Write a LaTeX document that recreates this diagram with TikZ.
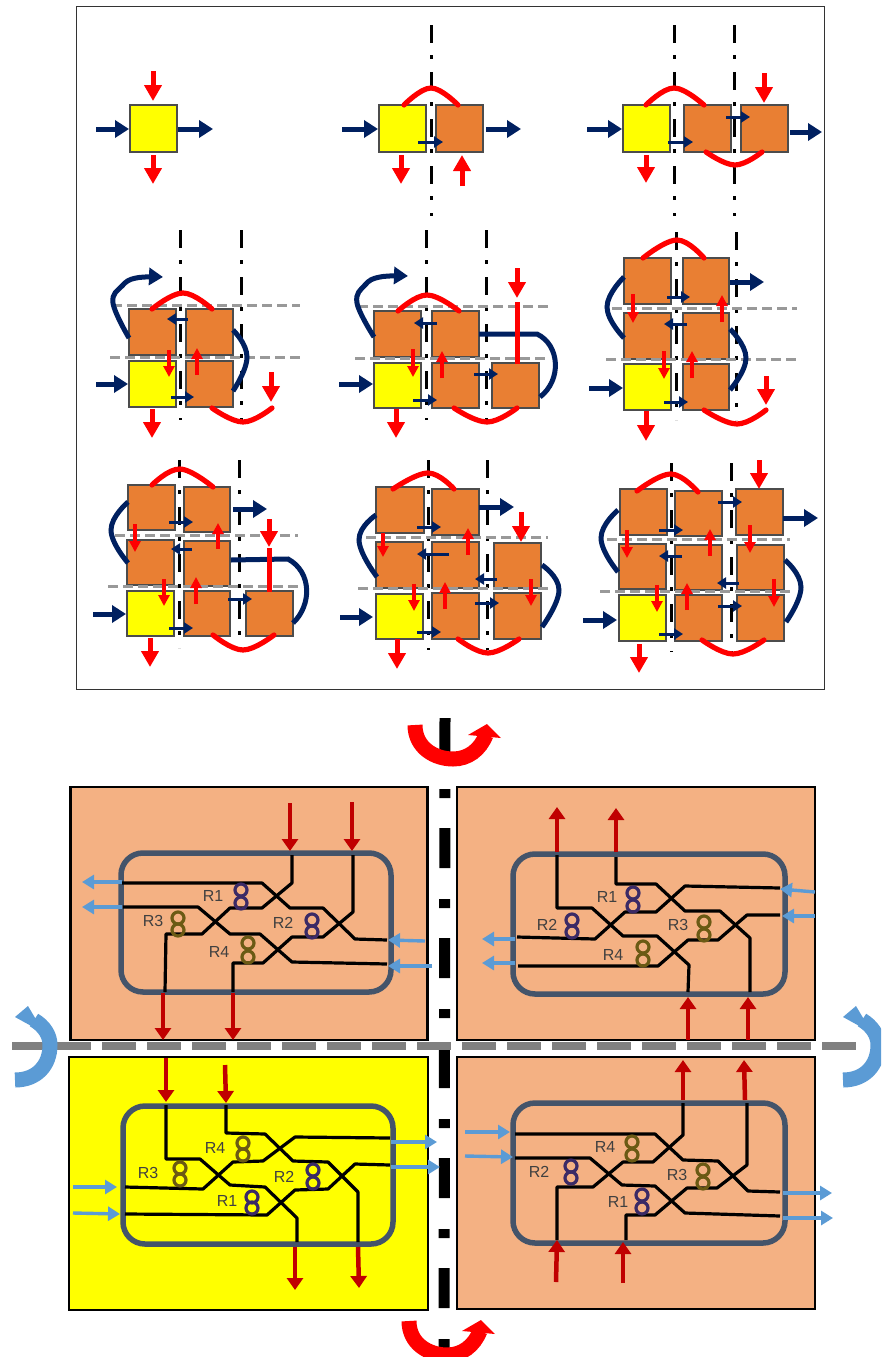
\documentclass[tikz,border=0pt]{standalone}
\usepackage{fontspec}
\setmainfont{Liberation Sans}
\usetikzlibrary{arrows.meta}
\definecolor{navyc}{HTML}{002060}
\definecolor{orangec}{HTML}{E97F33}
\definecolor{peachc}{HTML}{F4B183}
\definecolor{yellowc}{HTML}{FFFF00}
\definecolor{redc}{HTML}{FF0000}
\definecolor{darkredc}{HTML}{C00000}
\definecolor{bluec}{HTML}{5B9BD5}
\definecolor{slatec}{HTML}{44546A}
\definecolor{purplec}{HTML}{3B2A66}
\definecolor{olivec}{HTML}{6B5A14}
\tikzset{
  cellbox/.style={draw=black!70,line width=1.2pt,inner sep=0pt,outer sep=0pt},
  navybig/.style={navyc,line width=5pt,-{Triangle[length=14pt,width=17pt]}},
  navysmall/.style={navyc,line width=3pt,-{Triangle[length=9pt,width=11pt]}},
  redbig/.style={redc,line width=5pt,-{Triangle[length=16pt,width=17pt]}},
  redsmall/.style={redc,line width=3.2pt,-{Triangle[length=11pt,width=11pt]}},
  redline/.style={redc,line width=5pt},
  redcurve/.style={redc,line width=5.2pt,line cap=round},
  navycurve/.style={navyc,line width=5pt},
  axisline/.style={black,line width=3pt,dash pattern=on 18pt off 12pt on 4pt off 13pt},
  foldline/.style={black!40,line width=3pt,dash pattern=on 10pt off 5pt},
  panelbox/.style={draw=black,line width=2.6pt,inner sep=0pt,outer sep=0pt},
  wg/.style={black,line width=3.2pt,line join=round},
  modulebox/.style={draw=slatec,line width=5.5pt,rounded corners=22pt},
  ringp/.style={circle,draw=purplec,line width=3.2pt,minimum size=12pt,inner sep=0pt},
  ringo/.style={circle,draw=olivec,line width=3.2pt,minimum size=12pt,inner sep=0pt},
  rlabel/.style={text=black!75,font=\fontsize{16}{16}\selectfont,inner sep=0pt},
  bigred/.style={darkredc,line width=4.5pt,-{Triangle[length=12pt,width=16pt]}},
  bigblue/.style={bluec,line width=3.4pt,-{Triangle[length=12pt,width=14pt]}},
}
\newcommand\Cell[6]{\node[cellbox,fill=#6,minimum width={#4-#2},minimum height={#5-#3}] (#1) at ({(#2+#4)/2},{(#3+#5)/2}) {};}
\newcommand\Nb[2]{\draw[navybig] (#1) -- (#2);}
\newcommand\Ns[2]{\draw[navysmall] (#1) -- (#2);}
\newcommand\Rb[2]{\draw[redbig] (#1) -- (#2);}
\newcommand\Rs[2]{\draw[redsmall] (#1) -- (#2);}
\newcommand\Ra[3]{\draw[redcurve] plot[smooth,tension=0.7] coordinates {(#1) (#2) (#3)};}
\newcommand\Na[3]{\draw[navycurve] plot[smooth,tension=0.8] coordinates {(#1) (#2) (#3)};}
\newcommand\Axis[3]{\draw[axisline] (#1,#2) -- (#1,#3);}
\newcommand\Fold[3]{\draw[foldline] (#1,#3) -- (#2,#3);}
\newcommand\Rp[3]{\node[ringp] (#1a) at (#2) {};\node[ringp] (#1b) at (#3) {};}
\newcommand\Ro[3]{\node[ringo] (#1a) at (#2) {};\node[ringo] (#1b) at (#3) {};}
\newcommand\Lb[3]{\node[rlabel] (#1) at (#2) {#3};}
\newcommand\BR[2]{\draw[bigred] (#1) -- (#2);}
\newcommand\BB[2]{\draw[bigblue] (#1) -- (#2);}
\begin{document}
\begin{tikzpicture}[x=1pt,y=-1pt]
\path[use as bounding box] (0,0) rectangle (881,1357);
\clip (0,0) rectangle (881,1357);
\fill[white] (0,0) rectangle (881,1357);
\node[draw=black!80,line width=1pt,inner sep=0pt,minimum width=748pt,minimum height=683pt] (frame) at (450,347.5) {};

% ---------- row 1
\Axis{431}{25}{216}
\Axis{674}{25}{216}
\Axis{734}{25}{216}
\Cell{aY}{130}{105}{177}{152}{yellowc}
\Nb{96,129}{129,129}\Nb{178,129}{213,129}\Rb{153,71}{153,101}\Rb{153,155}{153,184}

\Cell{bY}{379}{105}{426}{152}{yellowc}
\Cell{bA}{436}{105}{483}{152}{orangec}
\Nb{342,129}{378,129}\Nb{486,129}{521,129}
\Ra{404,105}{431,88}{458,105}
\Rb{401,155}{401,184}\Rb{462,186}{462,155}
\Ns{418,142}{443,142}

\Cell{cY}{623}{105}{670}{152}{yellowc}
\Cell{cA}{684}{105}{731}{152}{orangec}
\Cell{cB}{741}{105}{788}{152}{orangec}
\Nb{587,129}{622,129}\Nb{790,132}{822,132}
\Ra{646,105}{674,88}{704,105}
\Ra{706,152}{735,165}{762,152}
\Rb{764,73}{764,103}\Rb{646,155}{646,183}
\Ns{668,142}{693,142}\Ns{726,117}{750,117}

% ---------- row 2 col 1
\Axis{180}{230}{420}
\Axis{241}{230}{420}
\Cell{dA}{129}{309}{176}{355}{orangec}
\Cell{dB}{186}{309}{233}{355}{orangec}
\Cell{dY}{129}{361}{176}{407}{yellowc}
\Cell{dC}{186}{361}{233}{407}{orangec}
\Fold{112}{300}{305}\Fold{110}{300}{357}
\draw[navybig] plot[smooth,tension=0.7] coordinates {(129,338) (113,303) (122,286) (136,278) (163,277)};
\Ra{152,309}{183,293}{212,309}
\Ns{188,319}{167,319}
\Rs{169,350}{169,377}\Rs{197,375}{197,348}
\Nb{96,384}{128,384}\Rb{152,409}{152,438}
\Ns{171,397}{194,397}
\Na{233,330}{247,357}{233,391}
\Ra{212,408}{243,422}{272,408}
\Rb{271,372}{271,402}

% ---------- row 2 col 2
\Axis{426}{230}{420}
\Axis{486}{230}{420}
\Cell{eA}{374}{311}{421}{357}{orangec}
\Cell{eB}{432}{311}{479}{357}{orangec}
\Cell{eY}{374}{363}{421}{408}{yellowc}
\Cell{eC}{432}{363}{479}{408}{orangec}
\Cell{eD}{492}{363}{539}{408}{orangec}
\Fold{358}{548}{306}\Fold{355}{547}{358}
\draw[navybig] plot[smooth,tension=0.7] coordinates {(374,337) (357,303) (365,285) (380,277) (408,276)};
\Ra{398,311}{427,295}{459,311}
\Ns{437,323}{414,323}
\Rs{413,349}{413,377}\Rs{442,378}{442,351}
\Nb{339,384}{373,384}\Rb{396,409}{396,438}
\Ns{413,400}{437,400}\Ns{474,374}{498,374}
\Ra{454,408}{487,422}{517,408}
\draw[navycurve] (479,334) -- (537,334) .. controls (560,345) and (562,380) .. (540,397);
\draw[redline] (517,364) -- (517,302);
\Rb{517,268}{517,298}

% ---------- row 2 col 3
\Axis{676}{232}{420}
\Axis{736}{232}{420}
\Cell{fA}{624}{258}{671}{304}{orangec}
\Cell{fB}{683}{258}{729}{304}{orangec}
\Cell{fC}{624}{313}{671}{359}{orangec}
\Cell{fD}{683}{313}{729}{359}{orangec}
\Cell{fY}{624}{364}{671}{410}{yellowc}
\Cell{fE}{683}{364}{729}{410}{orangec}
\Fold{612}{797}{308}\Fold{606}{797}{359}
\Ra{643,258}{677,240}{704,258}
\Nb{730,282}{764,282}
\Ns{667,297}{690,297}\Ns{687,324}{664,324}
\Rs{633,294}{633,323}\Rs{722,322}{722,295}
\Rs{664,351}{664,379}\Rs{692,378}{692,351}
\Na{624,277}{607,307}{624,338}
\Na{730,329}{746,358}{730,390}
\Nb{589,388}{623,388}\Rb{646,411}{646,441}
\Ns{664,402}{688,402}
\Ra{704,410}{737,424}{766,410}
\Rb{766,376}{766,405}

% ---------- row 3 col 1
\Axis{179}{460}{648}
\Axis{239}{460}{648}
\Cell{gA}{128}{485}{175}{530}{orangec}
\Cell{gB}{184}{487}{230}{532}{orangec}
\Cell{gC}{127}{540}{174}{585}{orangec}
\Cell{gD}{184}{541}{230}{586}{orangec}
\Cell{gY}{127}{591}{174}{636}{yellowc}
\Cell{gE}{184}{591}{230}{636}{orangec}
\Cell{gF}{246}{591}{293}{636}{orangec}
\Fold{115}{298}{535}\Fold{108}{298}{586}
\Ra{152,485}{180,469}{213,487}
\Nb{233,509}{267,509}
\Ns{169,522}{193,522}\Ns{192,549}{171,549}
\Rs{135,524}{135,552}\Rs{218,549}{218,523}
\Rs{164,579}{164,606}\Rs{196,604}{196,577}
\Na{128,502}{111,530}{128,563}
\Nb{93,614}{126,614}\Rb{150,638}{150,667}
\Ns{169,628}{193,628}\Ns{228,599}{252,599}
\Ra{213,635}{243,650}{274,635}
\draw[navycurve] (231,560) -- (288,559) .. controls (312,572) and (312,605) .. (293,623);
\draw[redline] (269,592) -- (269,548);
\Rb{269,519}{269,547}

% ---------- row 3 col 2
\Axis{428}{460}{650}
\Axis{487}{460}{650}
\Cell{hA}{376}{487}{424}{533}{orangec}
\Cell{hB}{432}{489}{479}{535}{orangec}
\Cell{hC}{376}{542}{423}{588}{orangec}
\Cell{hD}{432}{542}{479}{588}{orangec}
\Cell{hE}{494}{543}{541}{588}{orangec}
\Cell{hY}{376}{594}{423}{639}{yellowc}
\Cell{hF}{432}{593}{479}{639}{orangec}
\Cell{hG}{494}{593}{541}{639}{orangec}
\Fold{366}{548}{537}\Fold{358}{548}{588}
\Ra{393,489}{428,473}{454,489}
\Nb{479,507}{514,507}
\Ns{417,527}{441,527}\Ns{449,554}{417,554}
\Rb{521,512}{521,542}
\Rs{383,533}{383,557}\Rs{468,555}{468,528}
\Rs{414,584}{414,611}\Rs{445,609}{445,582}
\Na{376,515}{359,540}{377,577}
\Na{542,565}{559,590}{542,627}
\Ns{497,579}{475,579}\Ns{475,603}{499,603}
\Rs{531,579}{531,606}
\Nb{340,617}{373,617}\Rb{397,639}{397,669}
\Ns{417,632}{441,632}
\Ra{458,639}{488,653}{519,639}

% ---------- row 3 col 3
\Axis{671}{463}{652}
\Axis{731}{463}{652}
\Cell{iA}{620}{489}{667}{535}{orangec}
\Cell{iB}{675}{491}{722}{536}{orangec}
\Cell{iC}{736}{489}{783}{535}{orangec}
\Cell{iD}{619}{544}{666}{589}{orangec}
\Cell{iE}{675}{545}{722}{590}{orangec}
\Cell{iF}{737}{545}{784}{590}{orangec}
\Cell{iY}{619}{595}{666}{641}{yellowc}
\Cell{iG}{675}{595}{722}{641}{orangec}
\Cell{iH}{737}{595}{784}{641}{orangec}
\Fold{607}{790}{539}\Fold{600}{790}{591}
\Ra{637,491}{671,474}{698,492}
\Ns{718,502}{742,502}\Ns{659,530}{683,530}
\Nb{783,518}{818,518}
\Rb{759,460}{759,489}
\Rs{627,530}{627,558}\Rs{710,556}{710,529}\Rs{750,525}{750,553}
\Ns{682,556}{659,556}\Ns{739,583}{717,583}
\Rs{657,585}{657,612}\Rs{687,610}{687,583}\Rs{774,579}{774,607}
\Na{618,510}{601,538}{618,572}
\Na{785,560}{801,587}{786,622}
\Ns{718,606}{742,606}\Ns{659,634}{683,634}
\Nb{583,620}{617,620}\Rb{639,644}{639,673}
\Ra{702,640}{733,654}{764,640}

% ---------- symmetry axes
\draw[black,line width=11pt,dash pattern=on 40pt off 31pt on 9pt off 30pt] (445,718) -- (444,1357);
\draw[black!50,line width=8pt] (12,1046) -- (91,1046);
\draw[black!50,line width=8pt,dash pattern=on 34pt off 11pt] (102,1046) -- (860,1046);

% ---------- turn arrows
\newcommand\RedTurn{%
  \draw[redc,line width=15pt] (415,725) .. controls (415,748) and (435,759) .. (453,759) .. controls (468,759) and (480,750) .. (486,735);
  \fill[redc] (468,735) -- (487,724) -- (501,738) -- cycle;}
\newcommand\BlueTurn{%
  \draw[bluec,line width=15pt] (843,1080) .. controls (865,1080) and (878,1065) .. (878,1045) .. controls (878,1035) and (872,1026) .. (862,1020);
  \fill[bluec] (843,1017) -- (856,1006) -- (872,1033) -- cycle;}
\RedTurn
\begin{scope}[shift={(-6,596)}]\RedTurn\end{scope}
\BlueTurn
\begin{scope}[shift={(-828,0)}]\BlueTurn\end{scope}

% ---------- panels
\node[panelbox,fill=peachc,minimum width=357pt,minimum height=253pt] (ptl) at (249,913.5) {};
\node[panelbox,fill=peachc,minimum width=358pt,minimum height=253pt] (ptr) at (636,913.5) {};
\node[panelbox,fill=yellowc,minimum width=359pt,minimum height=253pt] (pbl) at (248.5,1183.5) {};
\node[panelbox,fill=peachc,minimum width=358pt,minimum height=252pt] (pbr) at (636,1183) {};

% ---------- top-left module
\draw[modulebox] (121,853) rectangle (391,992);
\draw[wg] (122,883) -- (262,883) -- (290,908) -- (323,908) -- (355,939) -- (387,940);
\draw[wg] (123,907) -- (198,907) -- (230,934) -- (260,934) -- (292,962) -- (387,964);
\draw[wg] (292,855) -- (292,883) -- (262,908) -- (230,908) -- (202,934) -- (166,934) -- (165,992);
\draw[wg] (353,855) -- (353,912) -- (323,937) -- (292,937) -- (263,963) -- (233,963) -- (233,992);
\Rp{tlra}{241,890}{241,903}\Rp{tlrb}{312,920}{312,932}
\Ro{tlrc}{178,918}{178,930}\Ro{tlrd}{248,943}{248,957}
\Lb{tlla}{213,896}{R1}\Lb{tllb}{283,923}{R2}\Lb{tllc}{153,921}{R3}\Lb{tlld}{219,952}{R4}
\BR{290,803}{290,851}\BR{352,802}{352,851}
\BR{163,993}{163,1040}\BR{233,993}{233,1040}
\BB{122,882}{82,882}\BB{122,907}{82,907}
\BB{425,941}{388,940}\BB{432,966}{388,966}

% ---------- top-right module
\draw[modulebox] (513,854) rectangle (785,994);
\draw[wg] (616,857) -- (616,884) -- (656,884) -- (685,911) -- (720,911) -- (750,938) -- (750,992);
\draw[wg] (557,855) -- (557,908) -- (592,908) -- (623,936) -- (657,936) -- (689,965) -- (688,992);
\draw[wg] (780,888) -- (685,886) -- (656,912) -- (625,912) -- (595,939) -- (517,937);
\draw[wg] (780,915) -- (747,915) -- (718,940) -- (688,940) -- (658,966) -- (518,966);
\Rp{trra}{633,893}{633,906}\Rp{trrb}{572,920}{572,932}
\Ro{trrc}{704,922}{704,935}\Ro{trrd}{643,947}{643,960}
\Lb{trla}{607,897}{R1}\Lb{trlb}{547,925}{R2}\Lb{trlc}{678,925}{R3}\Lb{trld}{613,955}{R4}
\BR{557,852}{557,807}\BR{616,852}{616,808}
\BR{688,1040}{688,997}\BR{748,1040}{748,997}
\BB{815,892}{780,889}\BB{815,916}{782,916}
\BB{515,939}{482,939}\BB{515,963}{482,963}

% ---------- bottom-left module
\draw[modulebox] (123,1106) rectangle (393,1244);
\draw[wg] (166,1105) -- (166,1159) -- (200,1159) -- (230,1185) -- (265,1187) -- (297,1218) -- (297,1242);
\draw[wg] (226,1105) -- (226,1133) -- (265,1134) -- (293,1161) -- (328,1162) -- (358,1192) -- (358,1242);
\draw[wg] (125,1187) -- (203,1189) -- (233,1162) -- (263,1161) -- (295,1137) -- (390,1138);
\draw[wg] (125,1214) -- (267,1215) -- (295,1190) -- (328,1189) -- (355,1164) -- (390,1165);
\Rp{blra}{252,1197}{252,1208}\Rp{blrb}{313,1170}{313,1183}
\Ro{blrc}{180,1168}{180,1180}\Ro{blrd}{243,1143}{243,1155}
\Lb{blla}{227,1201}{R1}\Lb{bllb}{284,1177}{R2}\Lb{bllc}{148,1173}{R3}\Lb{blld}{215,1148}{R4}
\BR{166,1058}{166,1102}\BR{225,1065}{226,1103}
\BR{295,1247}{295,1290}\BR{358,1247}{359,1288}
\BB{73,1187}{117,1187}\BB{73,1213}{120,1214}
\BB{391,1142}{437,1142}\BB{391,1167}{440,1167}

% ---------- bottom-right module
\draw[modulebox] (513,1103) rectangle (785,1243);
\draw[wg] (515,1134) -- (655,1134) -- (683,1160) -- (718,1161) -- (748,1191) -- (780,1192);
\draw[wg] (515,1158) -- (590,1158) -- (622,1185) -- (655,1186) -- (685,1213) -- (780,1216);
\draw[wg] (683,1103) -- (683,1135) -- (653,1162) -- (623,1162) -- (593,1187) -- (557,1187) -- (557,1240);
\draw[wg] (747,1103) -- (747,1165) -- (717,1188) -- (687,1188) -- (655,1215) -- (626,1215) -- (626,1240);
\Rp{brra}{642,1195}{642,1208}\Rp{brrb}{571,1166}{571,1178}
\Ro{brrc}{703,1170}{703,1183}\Ro{brrd}{632,1142}{632,1155}
\Lb{brla}{618,1202}{R1}\Lb{brlb}{539,1172}{R2}\Lb{brlc}{677,1175}{R3}\Lb{brld}{605,1147}{R4}
\BR{683,1100}{683,1060}\BR{745,1100}{744,1060}
\BR{556,1282}{557,1240}\BR{623,1283}{623,1242}
\BB{465,1132}{510,1132}\BB{465,1156}{513,1157}
\BB{783,1193}{832,1193}\BB{783,1218}{833,1218}
\end{tikzpicture}
\end{document}
